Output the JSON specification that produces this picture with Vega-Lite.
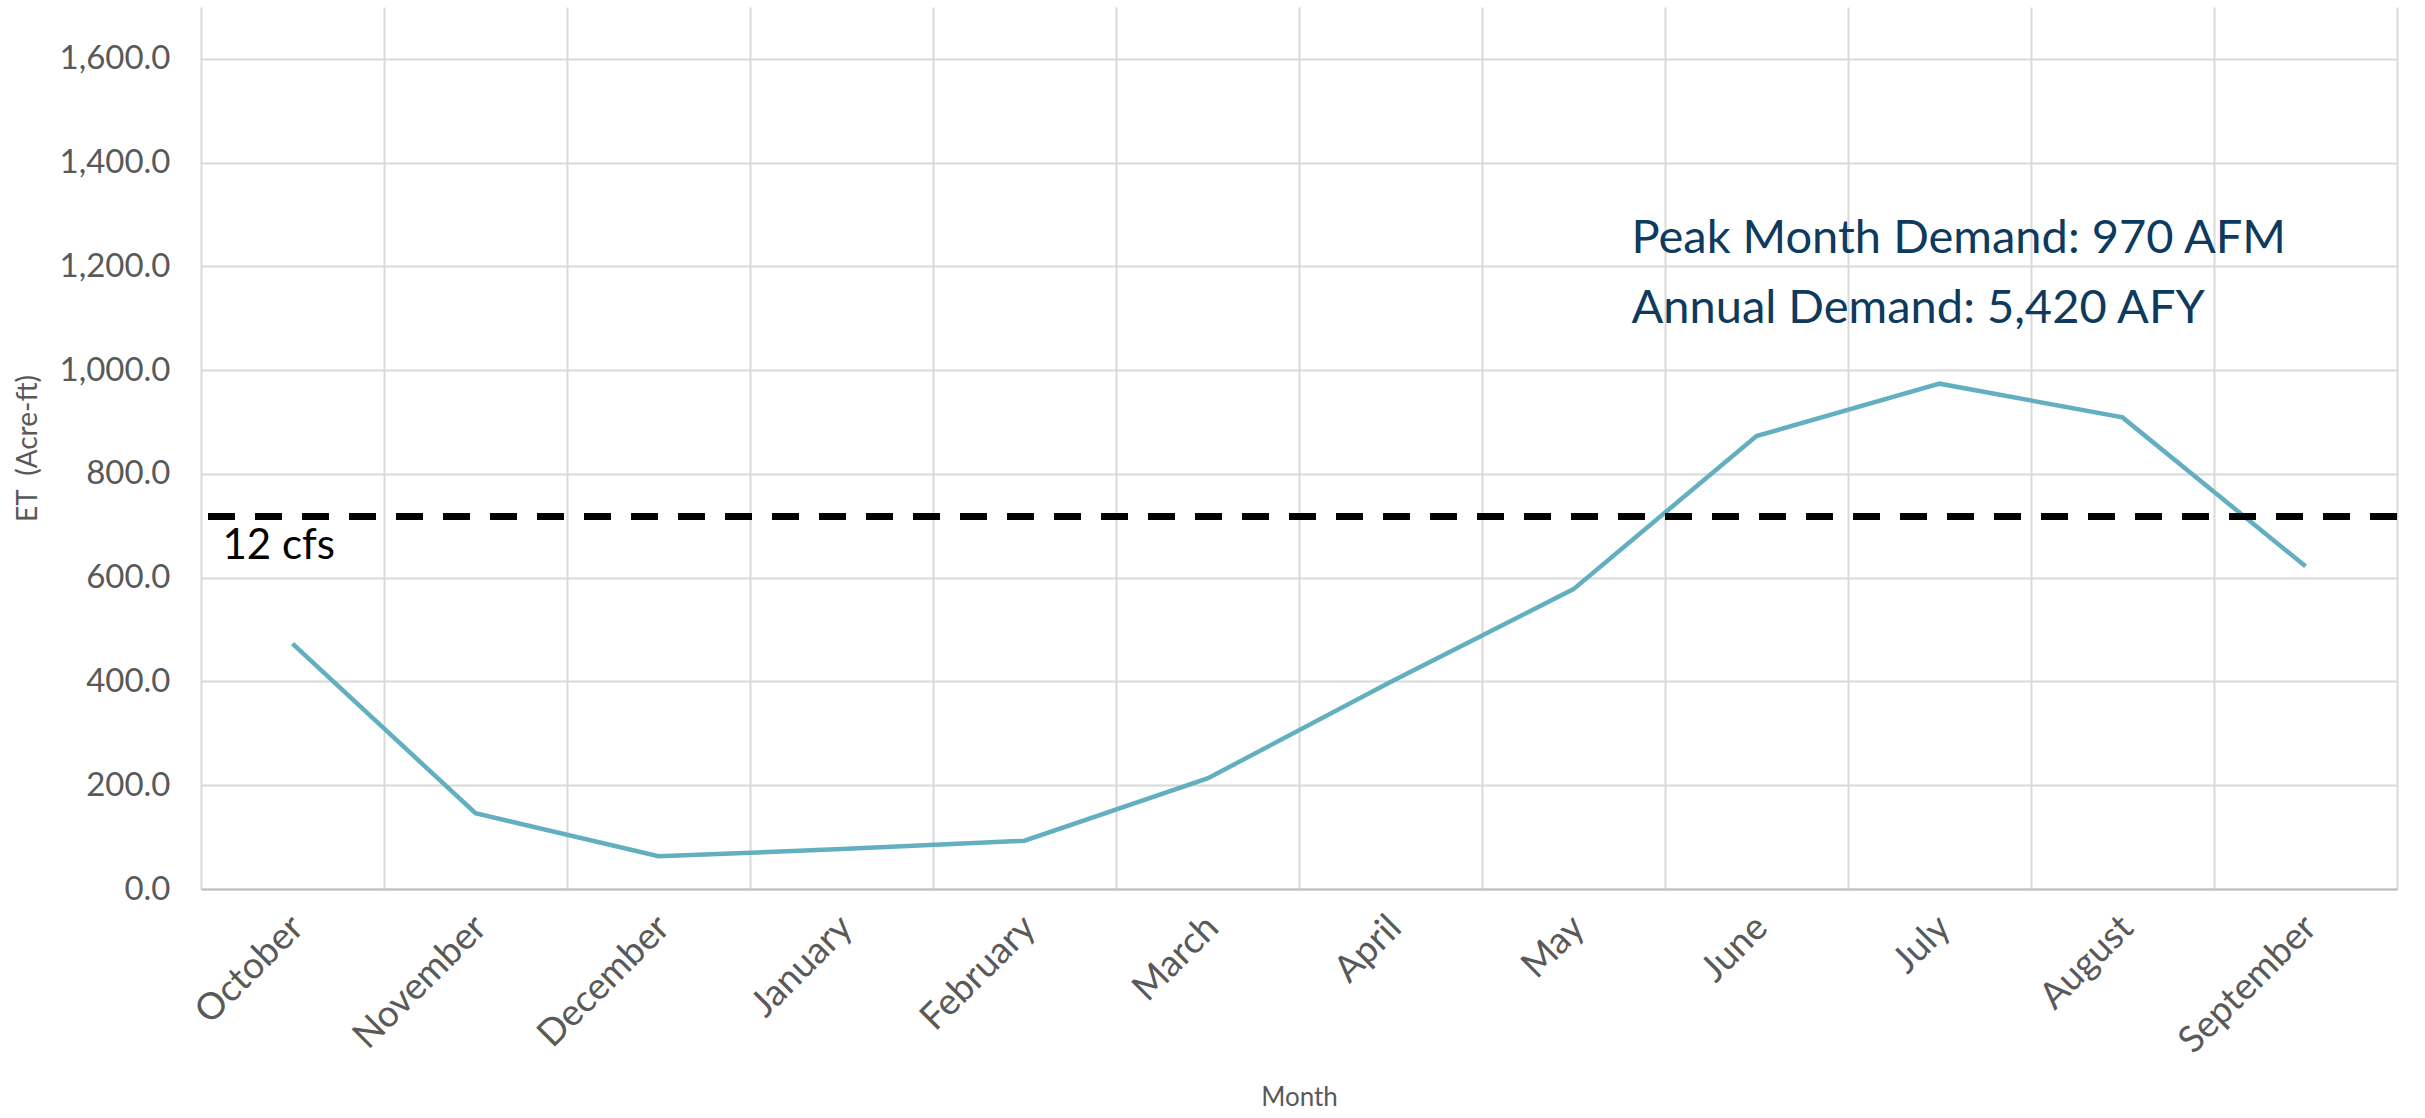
{
  "$schema": "https://vega.github.io/schema/vega-lite/v6.json",
  "width": 2196,
  "height": 882,
  "autosize": {"type": "none"},
  "padding": {"left": 201, "top": 7, "right": 28, "bottom": 229},
  "background": "white",
  "config": {"view": {"stroke": null}, "font": "Lato"},
  "datasets": {
    "et": [
      {"month": "October", "value": 473},
      {"month": "November", "value": 146},
      {"month": "December", "value": 63},
      {"month": "January", "value": 77},
      {"month": "February", "value": 93},
      {"month": "March", "value": 213},
      {"month": "April", "value": 399},
      {"month": "May", "value": 578},
      {"month": "June", "value": 873},
      {"month": "July", "value": 974},
      {"month": "August", "value": 909},
      {"month": "September", "value": 622}
    ],
    "threshold": [{"label": "12 cfs", "value": 718}],
    "thresholdLabel": [{"text": "12 cfs", "month": "October", "value": 636}],
    "notes": [
      {"text": "Peak Month Demand: 970 AFM", "month": "June", "value": 1226},
      {"text": "Annual Demand: 5,420 AFY", "month": "June", "value": 1091}
    ]
  },
  "layer": [
    {
      "data": {"name": "et"},
      "mark": {"type": "line", "color": "#62AFC0", "strokeWidth": 4.5, "strokeJoin": "miter"},
      "encoding": {
        "x": {
          "field": "month",
          "type": "nominal",
          "sort": ["October", "November", "December", "January", "February", "March", "April", "May", "June", "July", "August", "September"],
          "scale": {"paddingInner": 0, "paddingOuter": 0},
          "axis": {
            "title": "Month",
            "titleFont": "Lato",
            "titleFontSize": 26,
            "titleFontWeight": "normal",
            "titleColor": "#595959",
            "titleX": 1098,
            "titleY": 216,
            "titleAlign": "center",
            "titleBaseline": "alphabetic",
            "labelAngle": -45,
            "labelFontSize": 37,
            "labelColor": "#595959",
            "labelPadding": 20,
            "labelOffset": -8,
            "tickBand": "extent",
            "ticks": false,
            "grid": true,
            "gridColor": "#D9D9D9",
            "gridWidth": 2,
            "domain": true,
            "domainColor": "#BFBFBF",
            "domainWidth": 2
          }
        },
        "y": {
          "field": "value",
          "type": "quantitative",
          "scale": {"domain": [0, 1700], "nice": false, "zero": true},
          "axis": {
            "title": "ET\u00a0 (Acre-ft)",
            "titleFont": "Lato",
            "titleFontSize": 28,
            "titleFontWeight": "normal",
            "titleColor": "#595959",
            "titleX": -173,
            "titleY": 441,
            "titleAngle": -90,
            "titleAlign": "center",
            "titleBaseline": "middle",
            "values": [0, 200, 400, 600, 800, 1000, 1200, 1400, 1600],
            "format": ",.1f",
            "labelFontSize": 33,
            "labelColor": "#595959",
            "labelPadding": 31,
            "ticks": false,
            "domain": false,
            "grid": true,
            "gridColor": "#D9D9D9",
            "gridWidth": 2
          }
        }
      }
    },
    {
      "data": {"name": "threshold"},
      "mark": {"type": "rule", "color": "#000000", "strokeWidth": 7, "strokeDash": [27, 20]},
      "encoding": {
        "y": {"field": "value", "type": "quantitative"}
      }
    },
    {
      "data": {"name": "thresholdLabel"},
      "mark": {"type": "text", "align": "left", "baseline": "alphabetic", "dx": -70, "fontSize": 42, "color": "#000000", "font": "Lato"},
      "encoding": {
        "x": {"field": "month", "type": "nominal", "sort": ["October", "November", "December", "January", "February", "March", "April", "May", "June", "July", "August", "September"]},
        "y": {"field": "value", "type": "quantitative"},
        "text": {"field": "text"}
      }
    },
    {
      "data": {"name": "notes"},
      "mark": {"type": "text", "align": "left", "baseline": "alphabetic", "dx": -125, "fontSize": 47, "color": "#0E3A5E", "font": "Lato"},
      "encoding": {
        "x": {"field": "month", "type": "nominal", "sort": ["October", "November", "December", "January", "February", "March", "April", "May", "June", "July", "August", "September"]},
        "y": {"field": "value", "type": "quantitative"},
        "text": {"field": "text"}
      }
    }
  ]
}
